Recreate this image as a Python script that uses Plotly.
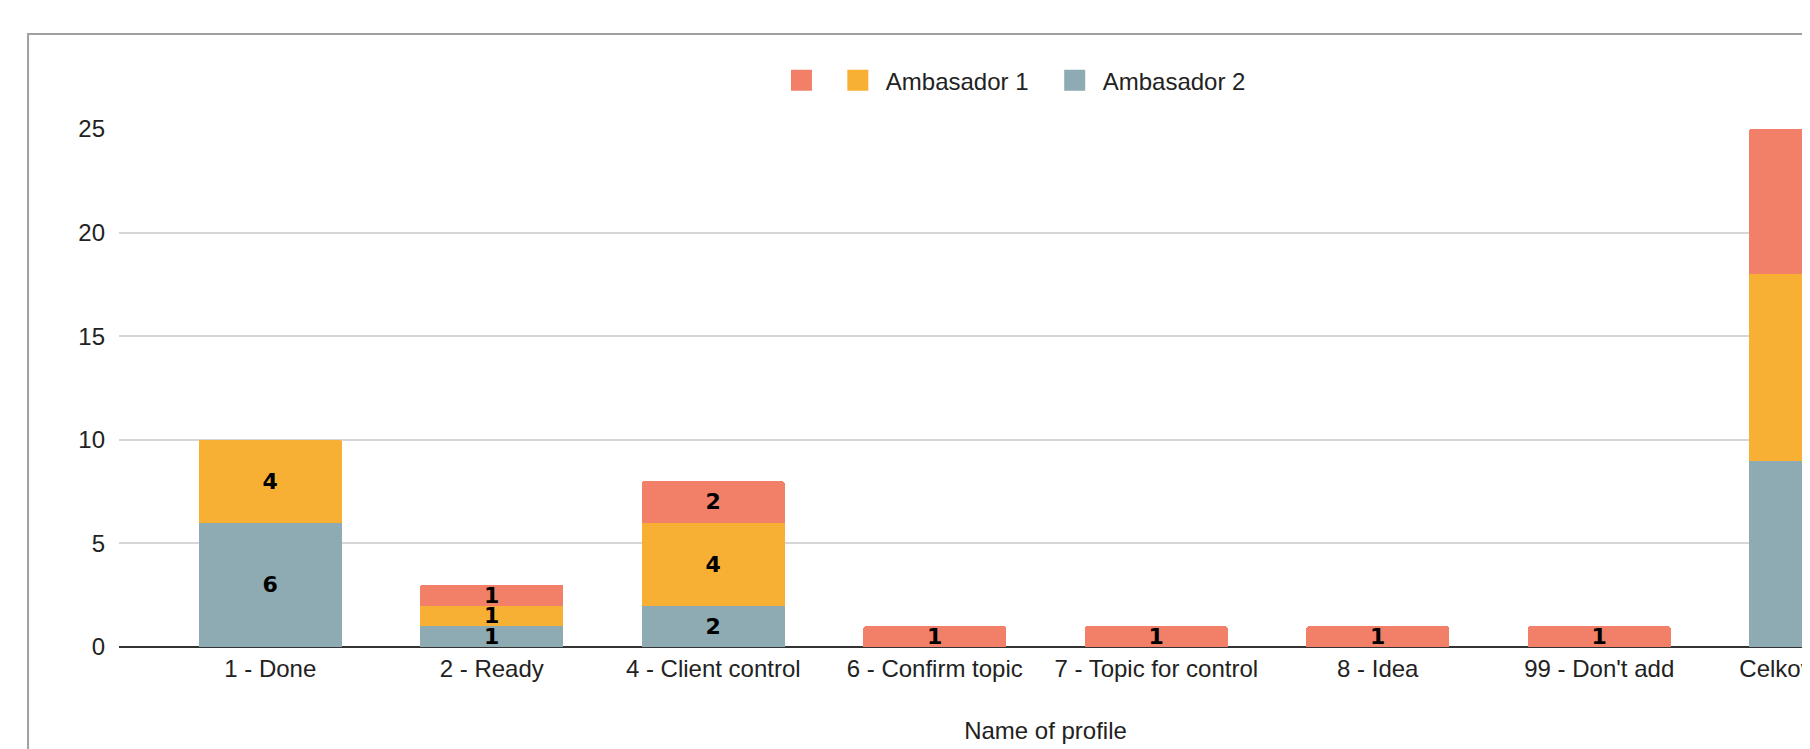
import plotly.graph_objects as go

# ---- data ----
categories = ["1 - Done", "2 - Ready", "4 - Client control", "6 - Confirm topic",
              "7 - Topic for control", "8 - Idea", "99 - Don't add", "Celkový součet"]
ambasador2 = [6, 1, 2, None, None, None, None, 9]
ambasador1 = [4, 1, 4, None, None, None, None, 9]
unnamed = [None, 1, 2, 1, 1, 1, 1, 7]
y_ticks = [0, 5, 10, 15, 20, 25]
axis_title = "Name of profile"

C_RED = "#F28068"
C_YEL = "#F7B034"
C_BLU = "#8EAAB3"

OFF = 8  # page body margin
W, H = 2010, 749
L, T = 118.5 - OFF, 129.3 - OFF
PW, PH = 1854, 517.7
R = W - L - PW
B = H - T - PH


def px2x(px):
    return (px - OFF - L) / PW


def px2y(py):
    return 1 - (py - OFF - T) / PH


fig = go.Figure()
label_font = dict(family="DejaVu Sans", size=22, color="#000000", weight="bold")
for name, vals, col in [("Ambasador 2", ambasador2, C_BLU),
                        ("Ambasador 1", ambasador1, C_YEL),
                        ("", unnamed, C_RED)]:
    fig.add_trace(go.Bar(
        x=categories, y=vals, name=name, marker=dict(color=col, line=dict(width=0)),
        text=[("" if v is None else str(v)) for v in vals],
        textposition="inside", insidetextanchor="middle", textangle=0,
        constraintext="none", cliponaxis=True,
        textfont=label_font, showlegend=False, hoverinfo="skip",
    ))

# legend entries (square symbols), one legend per entry for exact spacing
legend_items = [("", C_RED, "legend", 801.3),
                ("Ambasador 1", C_YEL, "legend2", 857.7),
                ("Ambasador 2", C_BLU, "legend3", 1074.7)]
for name, col, lg, _ in legend_items:
    fig.add_trace(go.Scatter(
        x=[None], y=[None], mode="markers", name=name, legend=lg,
        marker=dict(symbol="square", size=16, color=col, line=dict(color=col, width=8)),
        showlegend=True,
    ))

legend_common = dict(orientation="h", xanchor="left", yanchor="middle", itemwidth=46,
                     font=dict(size=24, color="#222222"), bgcolor="rgba(0,0,0,0)",
                     borderwidth=0)
legends = {}
for _, _, lg, cx in legend_items:
    legends[lg] = dict(legend_common, x=px2x(cx - 28), y=px2y(81))

fig.update_layout(
    width=W, height=H,
    margin=dict(l=L, r=R, t=T, b=B, pad=0),
    barmode="stack",
    bargap=0.353,
    barcornerradius=3,
    plot_bgcolor="white",
    paper_bgcolor="white",
    font=dict(family="Liberation Sans, Arial, sans-serif", size=24, color="#222222"),
    uniformtext=dict(minsize=22, mode="show"),
    xaxis=dict(
        type="category", range=[-0.683, 7.683], showgrid=False, ticks="",
        showline=False, zeroline=False, ticklabelstandoff=5,
        title=dict(text=axis_title, standoff=41, font=dict(size=24, color="#222222")),
        tickfont=dict(size=24, color="#222222"),
    ),
    yaxis=dict(
        range=[0, 25], tickvals=y_ticks, showgrid=True, gridcolor="#D6D6D6", gridwidth=2,
        zeroline=True, zerolinecolor="#333333", zerolinewidth=2, showline=False,
        ticks="", ticklabelstandoff=13, tickfont=dict(size=24, color="#222222"),
    ),
    shapes=[dict(type="rect", xref="paper", yref="paper",
                 x0=px2x(27.5), x1=px2x(1995), y0=px2y(34.4), y1=px2y(900),
                 line=dict(color="#A0A0A0", width=2), fillcolor="rgba(0,0,0,0)", layer="below")],
    **legends,
)

fig.write_html("out.html")
